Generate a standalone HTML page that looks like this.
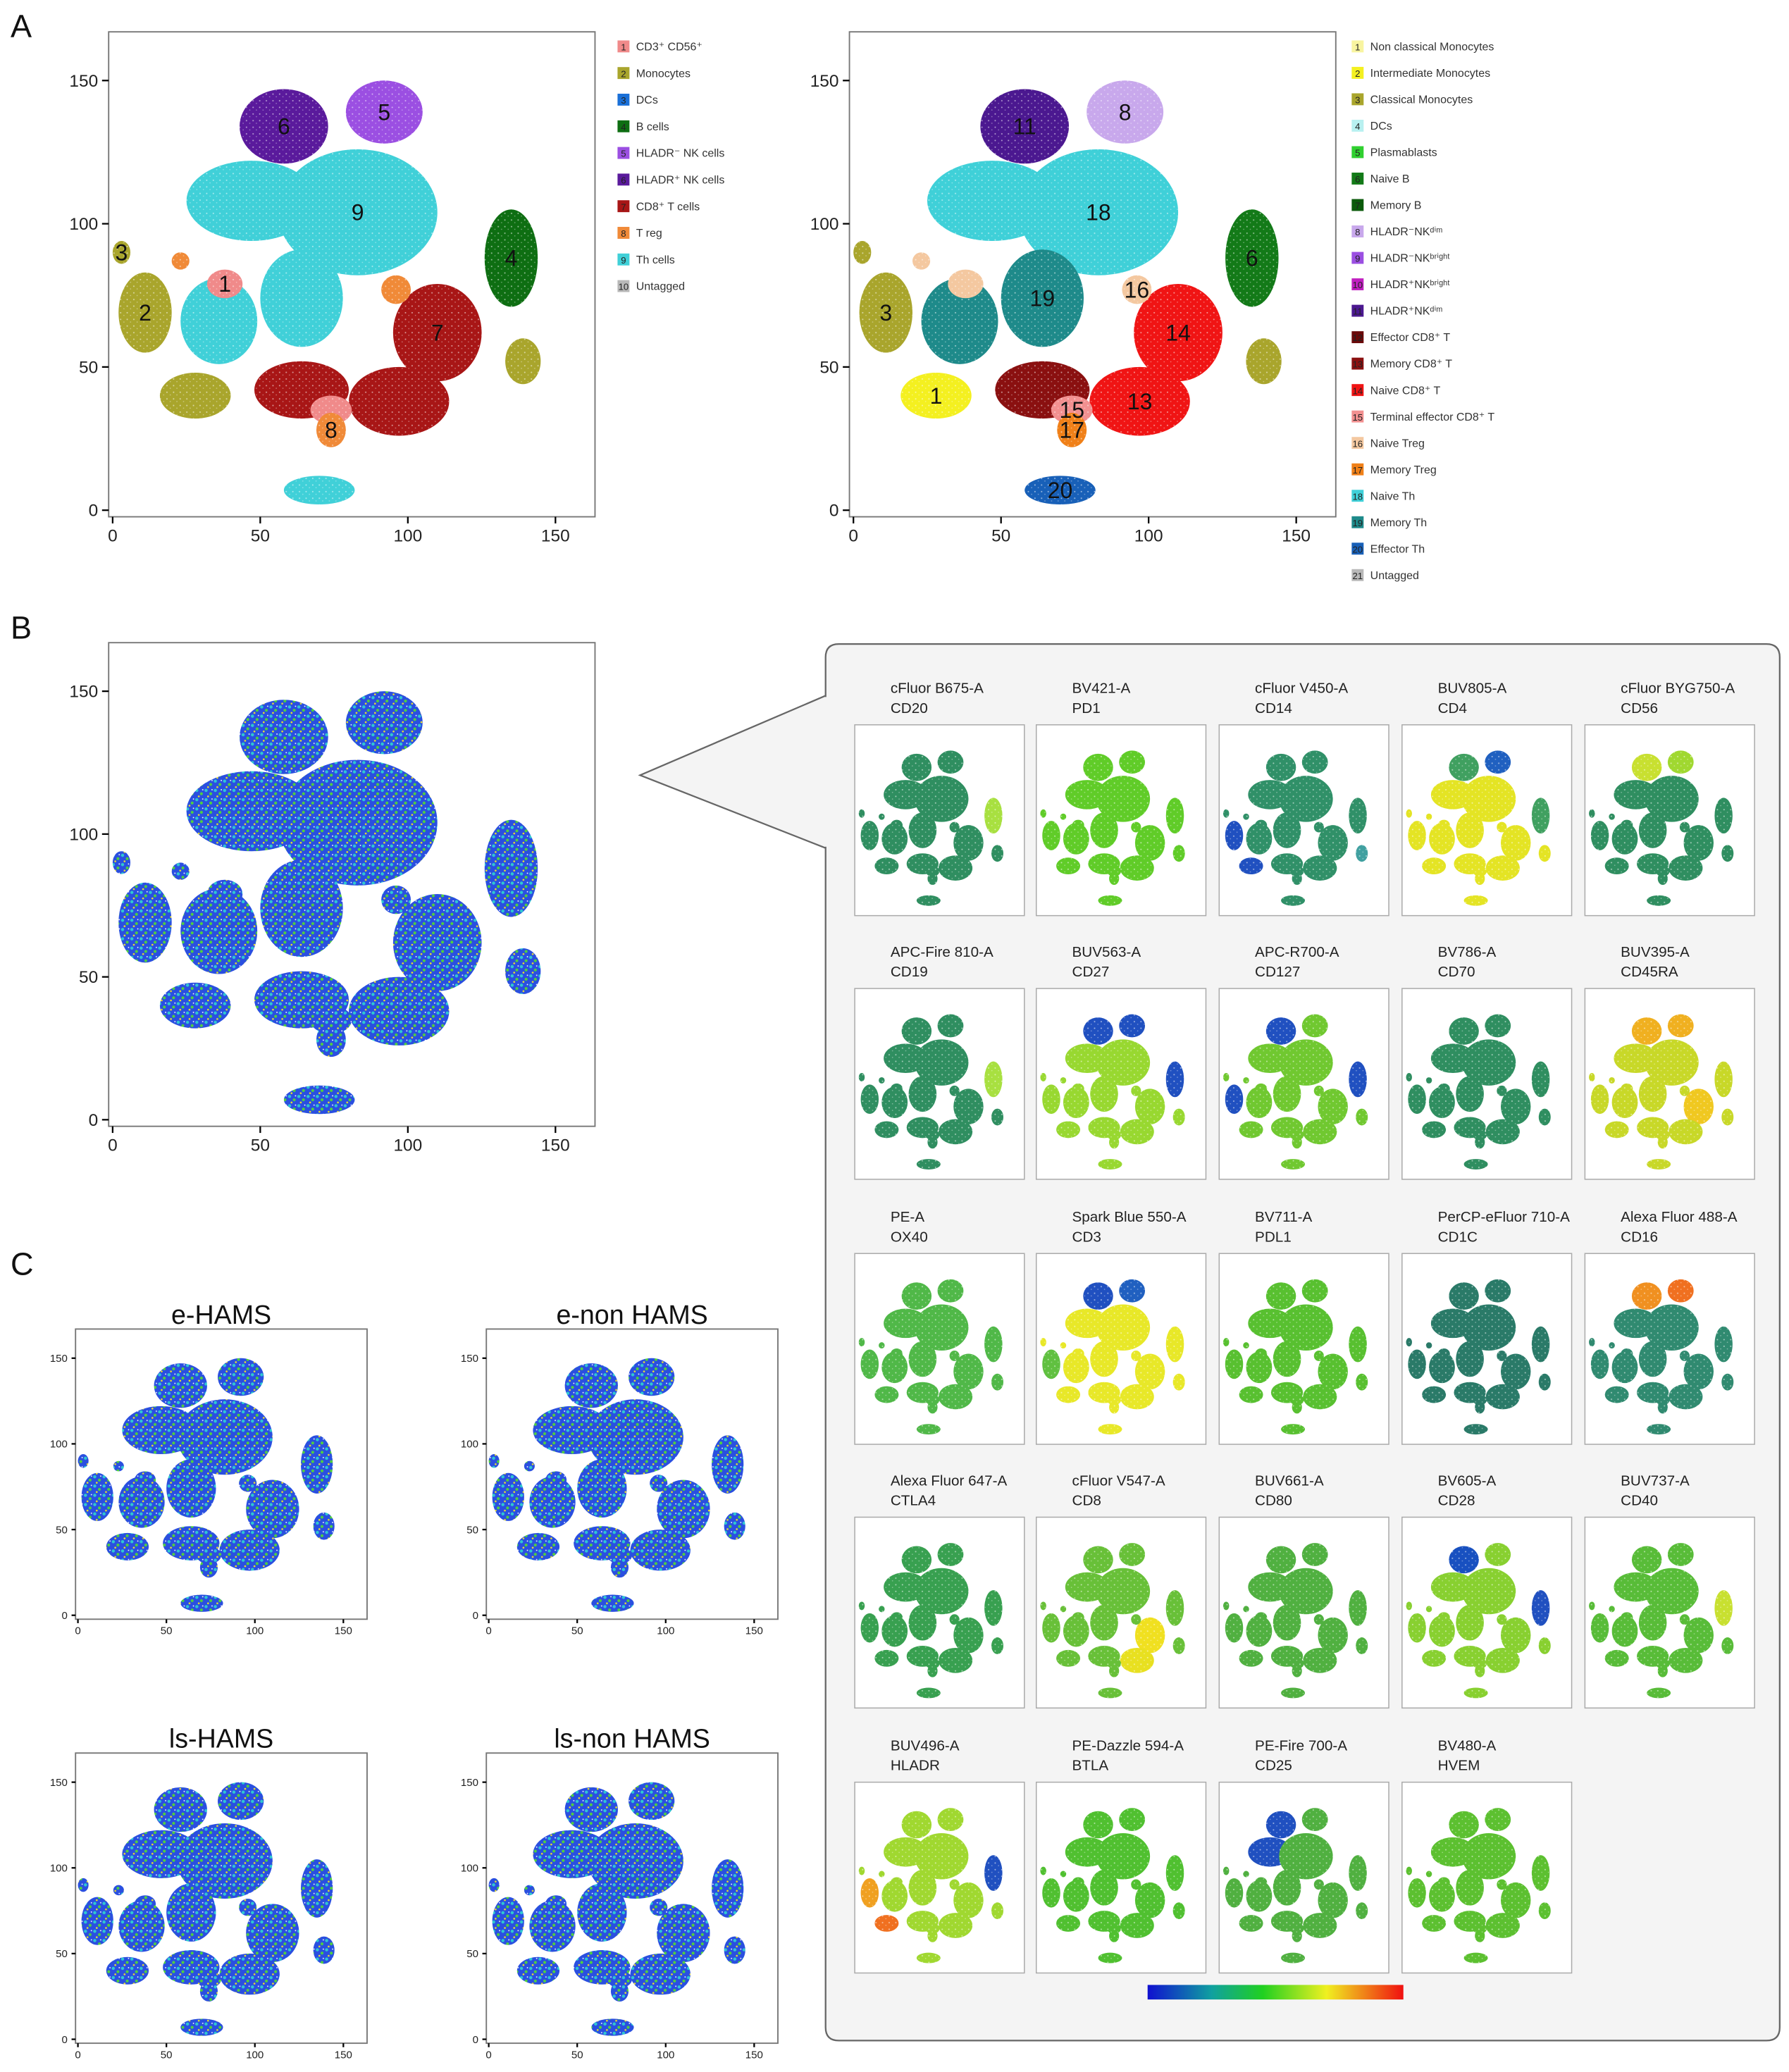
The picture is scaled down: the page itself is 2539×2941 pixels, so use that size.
<!DOCTYPE html>
<html><head><meta charset="utf-8">
<style>
html,body{margin:0;padding:0;background:#fff;}
svg{display:block;font-family:"Liberation Sans","DejaVu Sans",sans-serif;}
</style></head>
<body>
<svg id="fig" xmlns="http://www.w3.org/2000/svg" width="2539" height="2941" viewBox="0 0 1350 1563.7">
<defs>
<linearGradient id="cbar" x1="0" x2="1" y1="0" y2="0">
<stop offset="0" stop-color="#1010d0"/><stop offset="0.25" stop-color="#10a0a0"/><stop offset="0.45" stop-color="#20d020"/><stop offset="0.7" stop-color="#f0f020"/><stop offset="1" stop-color="#f01010"/>
</linearGradient>
<pattern id="dens" width="7" height="7" patternUnits="userSpaceOnUse">
<rect width="7" height="7" fill="#2a4fe0"/>
<circle cx="1.5" cy="1.5" r="1.2" fill="#30c8d0"/><circle cx="5" cy="4" r="1.1" fill="#50d040"/>
<circle cx="3" cy="6" r="0.7" fill="#e8e030"/><circle cx="6" cy="1" r="0.5" fill="#fff"/>
</pattern>
<pattern id="speck" width="5" height="5" patternUnits="userSpaceOnUse">
<circle cx="1" cy="1" r="0.55" fill="#fff" fill-opacity="0.55"/><circle cx="3.5" cy="3" r="0.45" fill="#fff" fill-opacity="0.4"/>
</pattern>
</defs>
<g id="root"></g>
</svg>
<script>
// ---- cluster geometry (t-SNE data units) ----
const clusterX  = [58, 92, 47, 83, 36, 64, 135, 11, 28, 3, 139, 110, 97, 64, 38, 74, 74, 96, 70, 23];
const clusterY  = [134,139,108,104, 66, 74,  88, 69, 40, 90, 52,  62, 38, 42, 79, 35, 28, 77,  7, 87];
const clusterRX = [15, 13, 22, 27, 13, 14,   9,  9, 12, 3,  6,  15, 17, 16,  6,  7,  5,  5, 12,  3];
const clusterRY = [13, 11, 14, 22, 15, 17,  17, 14,  8, 4,  8,  17, 12, 10,  5,  5,  6,  5,  5,  3];
const colorsA1 = ['#5a1a9c','#9b4fe2','#40d0d8','#40d0d8','#40d0d8','#40d0d8','#0e6e12','#a9a52c','#a9a52c','#a9a52c','#a9a52c','#a81616','#a81616','#a81616','#f08a8a','#f08a8a','#f08a38','#f08a38','#40d0d8','#f08a38'];
const colorsA2 = ['#4b1890','#c8a8ec','#3fd0d8','#3fd0d8','#1e8a8a','#1e8a8a','#137a18','#a9a52c','#f4f020','#a9a52c','#a9a52c','#f01414','#f01414','#8a1010','#f4c8a0','#f29090','#f08018','#f4c8a0','#1860b8','#f4c8a0'];
const labelsA1 = ['6','5','','9','','','4','2','','3','','7','','','1','','8','','',''];
const labelsA2 = ['11','8','','18','','19','6','3','1','','','14','13','','','15','17','16','20',''];
const xTicks = [0,50,100,150];
const yTicks = [0,50,100,150];
const legendA1 = ['CD3⁺ CD56⁺','Monocytes','DCs','B cells','HLADR⁻ NK cells','HLADR⁺ NK cells','CD8⁺ T cells','T reg','Th cells','Untagged'];
const legendA1Colors = ['#f08a8a','#a9a52c','#1a70d8','#0e6e12','#9b4fe2','#5a1a9c','#a81616','#f08a38','#40d0d8','#b8b8b8'];
const legendA2 = ['Non classical Monocytes','Intermediate Monocytes','Classical Monocytes','DCs','Plasmablasts','Naive B','Memory B','HLADR⁻NKᵈⁱᵐ','HLADR⁻NKᵇʳⁱᵍʰᵗ','HLADR⁺NKᵇʳⁱᵍʰᵗ','HLADR⁺NKᵈⁱᵐ','Effector CD8⁺ T','Memory CD8⁺ T','Naive CD8⁺ T','Terminal effector CD8⁺ T','Naive Treg','Memory Treg','Naive Th','Memory Th','Effector Th','Untagged'];
const legendA2Colors = ['#f8f4a0','#f4f020','#a9a52c','#b8f0f0','#30d030','#137a18','#0b5a0b','#c8a8ec','#9b4fe2','#c020c0','#4b1890','#6a0808','#8a1010','#f01414','#f29090','#f4c8a0','#f08018','#3fd0d8','#1e8a8a','#1860b8','#b8b8b8'];
const markerChannels = ['cFluor B675-A','BV421-A','cFluor V450-A','BUV805-A','cFluor BYG750-A','APC-Fire 810-A','BUV563-A','APC-R700-A','BV786-A','BUV395-A','PE-A','Spark Blue 550-A','BV711-A','PerCP-eFluor 710-A','Alexa Fluor 488-A','Alexa Fluor 647-A','cFluor V547-A','BUV661-A','BV605-A','BUV737-A','BUV496-A','PE-Dazzle 594-A','PE-Fire 700-A','BV480-A'];
const markerNames = ['CD20','PD1','CD14','CD4','CD56','CD19','CD27','CD127','CD70','CD45RA','OX40','CD3','PDL1','CD1C','CD16','CTLA4','CD8','CD80','CD28','CD40','HLADR','BTLA','CD25','HVEM'];
const markerBase = ['#2f8e60','#60cc28','#309068','#e4e424','#2f8e60','#2f8e60','#98d830','#70c830','#2f8e60','#c8d828','#50b848','#e8e828','#58c030','#2a7a68','#308a70','#38a050','#68c038','#50b040','#88d030','#58bc38','#a0d830','#50c030','#50b040','#5cc030'];
const markerHiIdx = [[6],[],[7,8,10],[0,1,6],[0,1],[6],[0,1,6],[0,6,7],[],[0,1,11],[],[0,1,7],[],[],[0,1],[],[11,12],[],[0,6],[6],[7,8,6],[],[0,2],[]];
const markerHiCol = [['#a8e040'],[],['#2050c0','#2050c0','#40a0a0'],['#40a060','#2060c0','#40a060'],['#c8e030','#a0d830'],['#a8e040'],['#2050c0','#2050c0','#2050c0'],['#2050c0','#2050c0','#2050c0'],[],['#f0b020','#f0b020','#f0c820'],[],['#2050c0','#2060c0','#60c040'],[],[],['#f09020','#f07020'],[],['#f0e020','#e8e020'],[],['#1850c0','#2050c0'],['#c8e030'],['#f0a020','#f07020','#2050c0'],[],['#2050c0','#2050c0'],[]];
const cTitles = ['e-HAMS','e-non HAMS','ls-HAMS','ls-non HAMS'];

const NS='http://www.w3.org/2000/svg';
const root=document.getElementById('root');
function mk(tag,attrs,parent){const e=document.createElementNS(NS,tag);for(const k in attrs)e.setAttribute(k,attrs[k]);(parent||root).appendChild(e);return e;}
const XMIN=-1.35,XMAX=163.4,YMIN=-2.3,YMAX=167;
function scales(bx,by,bw,bh){return{x:v=>bx+(v-XMIN)/(XMAX-XMIN)*bw,y:v=>by+bh-(v-YMIN)/(YMAX-YMIN)*bh,kx:bw/(XMAX-XMIN),ky:bh/(YMAX-YMIN)};}

function drawClusters(g,s,fills,texture){
  for(let i=0;i<clusterX.length;i++){
    const e=mk('ellipse',{cx:s.x(clusterX[i]),cy:s.y(clusterY[i]),rx:clusterRX[i]*s.kx,ry:clusterRY[i]*s.ky,fill:fills[i]},g);
    
    
    if(texture){
      const t=mk('ellipse',{cx:s.x(clusterX[i]),cy:s.y(clusterY[i]),rx:clusterRX[i]*s.kx,ry:clusterRY[i]*s.ky,fill:'url(#speck)'},g);
      
      
    }
  }
}
function drawAxes(g,s,bx,by,bw,bh,fs,tl){
  const b=mk('rect',{x:bx,y:by,width:bw,height:bh,fill:'none',stroke:'#777','stroke-width':1},g);
  
  
  for(const t of xTicks){
    const ln=mk('line',{x1:s.x(t),x2:s.x(t),y1:by+bh,y2:by+bh+tl,stroke:'#000','stroke-width':1.2},g);
    
    
    const tx=mk('text',{x:s.x(t),y:by+bh+tl+fs*1.05,'font-size':fs,'text-anchor':'middle',fill:'#222'},g);
    tx.textContent=t;
    
    
  }
  for(const t of yTicks){
    const ln=mk('line',{x1:bx-tl,x2:bx,y1:s.y(t),y2:s.y(t),stroke:'#000','stroke-width':1.2},g);
    
    
    const tx=mk('text',{x:bx-tl-3,y:s.y(t)+fs*0.35,'font-size':fs,'text-anchor':'end',fill:'#222'},g);
    tx.textContent=t;
    
    
  }
}
function panelLetter(t,x,y){const e=mk('text',{x:x,y:y,'font-size':24,fill:'#111'});e.textContent=t;}

panelLetter('A',8,28);panelLetter('B',8,482);panelLetter('C',8,962);

// Panel A maps
function mapA(bx,fills,labels,name){
  const g=mk('g',{});
  
  
  const s=scales(bx,24,367,366);
  drawClusters(g,s,fills,true);
  for(let i=0;i<labels.length;i++){ if(!labels[i])continue;
    const t=mk('text',{x:s.x(clusterX[i]),y:s.y(clusterY[i])+6,'font-size':17,'text-anchor':'middle',fill:'#111'},g);
    t.textContent=labels[i];
    
    
  }
  drawAxes(g,s,bx,24,367,366,13,5);
}
mapA(82,colorsA1,labelsA1,'tsne-map-populations');
mapA(641,colorsA2,labelsA2,'tsne-map-subpopulations');

function legend(x,y0,step,names,cols,name){
  const g=mk('g',{});
  
  
  names.forEach((n,i)=>{
    const y=y0+i*step;
    const r=mk('rect',{x:x,y:y-4.5,width:9,height:9,fill:cols[i]},g);
    
    
    const num=mk('text',{x:x+4.5,y:y+3,'font-size':7,'text-anchor':'middle',fill:'#222'},g);
    num.textContent=i+1;
    
    
    const t=mk('text',{x:x+14,y:y+3,'font-size':8.5,fill:'#333'},g);
    t.textContent=n;
    
    
  });
}
legend(466,35,20.1,legendA1,legendA1Colors,'legend-populations');
legend(1020,35,19.95,legendA2,legendA2Colors,'legend-subpopulations');

// Panel B
(function(){
  const g=mk('g',{});
  
  
  const s=scales(82,485,367,365);
  drawClusters(g,s,clusterX.map(()=> 'url(#dens)'),false);
  drawAxes(g,s,82,485,367,365,13,5);
})();

// callout panel
const callout=mk('path',{d:'M623,525 L483,585 L623,640 Z M623,496 Q623,486 633,486 L1333,486 Q1343,486 1343,496 L1343,1530 Q1343,1540 1333,1540 L633,1540 Q623,1540 623,1530 Z',fill:'#f4f4f4',stroke:'#666','stroke-width':1.2});


const cover=mk('rect',{x:622,y:526,width:3,height:113,fill:'#f4f4f4'});



const colX=[645,782,920,1058,1196], rowY=[547,746,946,1145,1345];
markerNames.forEach((m,i)=>{
  const c=i%5,r=Math.floor(i/5);
  const bx=colX[c],by=rowY[r];
  const g=mk('g',{});
  
  
  const bg=mk('rect',{x:bx,y:by,width:128,height:144,fill:'#fff',stroke:'#aaa','stroke-width':0.8},g);
  
  
  const s=scales(bx+2,by+6,124,134);
  const fills=clusterX.map(()=>markerBase[i]);
  markerHiIdx[i].forEach((k,j)=>{fills[k]=markerHiCol[i][j];});
  drawClusters(g,s,fills,true);
  const t1=mk('text',{x:bx+27,y:by-24,'font-size':11,fill:'#222'},g);
  t1.textContent=markerChannels[i];
  
  
  const t2=mk('text',{x:bx+27,y:by-9,'font-size':11,fill:'#222'},g);
  t2.textContent=m;
  
  
});
const cb=mk('rect',{x:866,y:1498,width:193,height:11,fill:'url(#cbar)'});



// Panel C
const cPos=[[57,1003],[367,1003],[57,1323],[367,1323]];
cTitles.forEach((t,i)=>{
  const [bx,by]=cPos[i];
  const g=mk('g',{});
  
  
  const s=scales(bx,by,220,219);
  drawClusters(g,s,clusterX.map(()=> 'url(#dens)'),false);
  drawAxes(g,s,bx,by,220,219,8,3);
  const tt=mk('text',{x:bx+110,y:by-4,'font-size':20,'text-anchor':'middle',fill:'#111'},g);
  tt.textContent=t;
  
  
});
</script>
</body></html>
